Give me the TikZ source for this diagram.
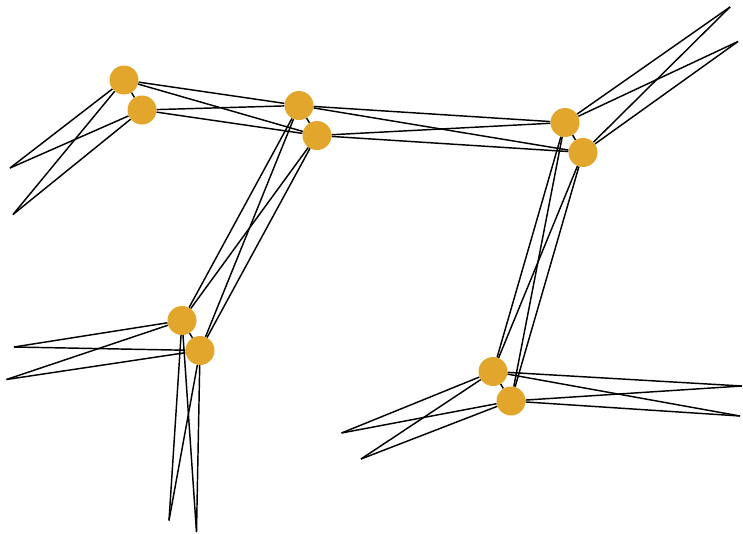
\documentclass[tikz,border=0pt]{standalone}
\usepackage{tikz}
\usetikzlibrary{backgrounds}
\definecolor{vtxfill}{HTML}{E2A62C}
\tikzset{
  vtx/.style = {circle,fill=vtxfill,draw=none,minimum size=29pt,inner sep=0pt},
  lnk/.style = {line width=1.45pt,draw=black},
}

\begin{document}
\begin{tikzpicture}[x=1pt,y=-1pt]
  \useasboundingbox (0,0) rectangle (743,533);

  % vertex pairs
  \foreach \n/\x/\y in {a1/124/80, a2/142/110, b1/299/105.5, b2/317/135.5,
                        c1/565/122.5, c2/583/152.5, d1/182/320.5, d2/200/350.5,
                        e1/493/371.5, e2/511/401}{
    \node[vtx] (\n) at (\x,\y) {};
  }

  % loose ends
  \foreach \n/\x/\y in {la1/10/168, la2/13/214.5, tc1/730/7, tc2/738/41.5,
                        ld1/14/347, ld2/6.5/379.5, bd1/169/520.5, bd2/196.5/532,
                        le1/341.5/433, le2/361/459, re1/742/386, re2/740/416}{
    \coordinate (\n) at (\x,\y);
  }

  \begin{scope}[on background layer]
    % links inside a pair
    \foreach \p in {a,b,c,d,e}{
      \draw[lnk] (\p1) -- (\p2);
    }
    % every vertex of a pair to every vertex of the next one
    \foreach \p/\q in {a/b, b/c, b/d, c/e, a/la, c/tc, d/ld, d/bd, e/le, e/re}{
      \foreach \i in {1,2}{
        \foreach \j in {1,2}{
          \draw[lnk] (\p\i) -- (\q\j);
        }
      }
    }
  \end{scope}
\end{tikzpicture}
\end{document}
